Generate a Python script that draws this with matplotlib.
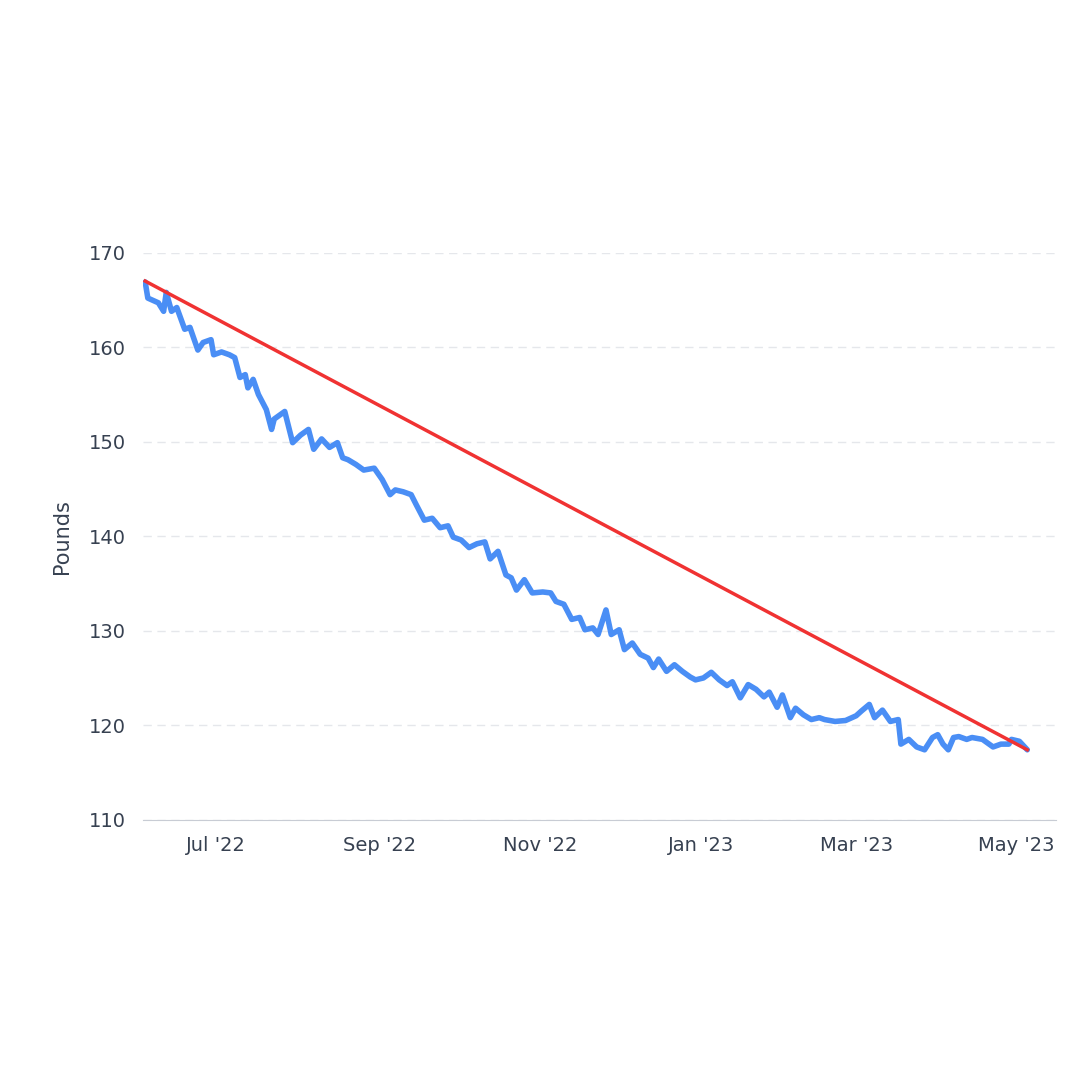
import matplotlib
matplotlib.use("Agg")
import matplotlib.pyplot as plt
import matplotlib.dates as mdates
import pandas as pd

start_date = "2022-06-04"
day_offsets = [0,1,5,7,8,10,12,15,17,20,22,25,26,29,32,34,36,38,39,41,43,46,48,49,53,56,59,62,64,67,70,73,75,77,80,83,87,90,93,95,98,101,103,106,109,112,115,117,120,123,126,129,131,134,137,139,141,144,147,151,154,156,159,162,165,167,170,172,175,177,180,182,185,188,191,193,195,198,201,204,207,209,212,215,218,221,223,226,229,232,235,237,240,242,245,247,250,253,256,258,262,266,270,272,275,277,280,283,286,287,290,293,296,299,301,303,305,307,309,312,314,318,322,325,328,329,332,335]
weights = [166.9,165.2,164.7,163.8,165.8,163.8,164.2,161.9,162.1,159.7,160.5,160.8,159.2,159.5,159.2,158.9,156.8,157.1,155.7,156.6,155.0,153.4,151.3,152.4,153.2,149.9,150.7,151.3,149.2,150.3,149.4,149.9,148.3,148.1,147.6,147.0,147.2,146.0,144.4,144.9,144.7,144.4,143.3,141.7,141.9,140.9,141.1,139.9,139.6,138.8,139.2,139.4,137.6,138.4,135.9,135.6,134.3,135.4,134.0,134.1,134.0,133.1,132.8,131.2,131.4,130.1,130.3,129.6,132.2,129.6,130.1,128.0,128.7,127.5,127.1,126.1,127.0,125.7,126.4,125.7,125.1,124.8,125.0,125.6,124.8,124.2,124.6,122.9,124.3,123.8,123.0,123.5,121.9,123.2,120.8,121.8,121.1,120.6,120.8,120.6,120.4,120.5,121.0,121.5,122.2,120.8,121.6,120.4,120.6,118.0,118.5,117.7,117.4,118.7,119.0,118.0,117.4,118.7,118.8,118.5,118.7,118.5,117.7,118.0,118.0,118.5,118.3,117.4]
trend_values = [167.0, 117.4]

dates = pd.to_datetime(start_date) + pd.to_timedelta(day_offsets, unit="D")

fig = plt.figure(figsize=(10.8, 10.8), dpi=100)
ax = fig.add_axes([0.132, 0.241, 0.846, 0.525])
ax.plot(dates, weights, color="#4a8ef5", lw=4, solid_joinstyle="round", solid_capstyle="round")
ax.plot([dates[0], dates[-1]], trend_values, color="#f03232", lw=2.5)

ax.set_ylim(110, 170)
ax.set_yticks([110, 120, 130, 140, 150, 160, 170])
ax.set_xlim(pd.Timestamp("2022-06-03"), pd.Timestamp("2023-05-16"))
ax.xaxis.set_major_locator(mdates.MonthLocator(bymonth=[1, 3, 5, 7, 9, 11]))
ax.xaxis.set_major_formatter(mdates.DateFormatter("%b '%y"))
ax.grid(axis="y", color="#e5e7eb", linestyle=(0, (6, 4)), lw=1)
ax.set_axisbelow(True)
for s in ["top", "right", "left"]:
    ax.spines[s].set_visible(False)
ax.spines["bottom"].set_color("#c8ccd4")
ax.tick_params(length=0, labelsize=14, colors="#374151", pad=12)
ax.set_ylabel("Pounds", fontsize=15, color="#374151", labelpad=12)
fig.savefig("out.png", dpi=100, facecolor="white")
